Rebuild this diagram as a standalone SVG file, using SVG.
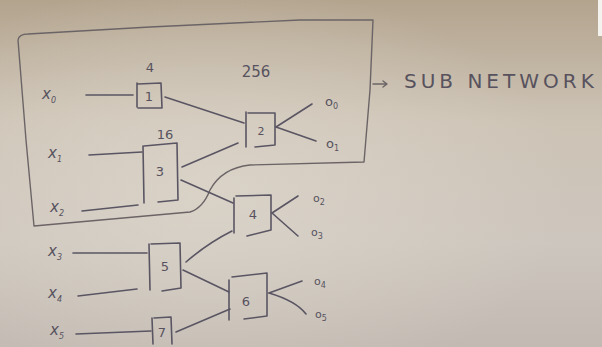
<svg xmlns="http://www.w3.org/2000/svg" width="602" height="347" viewBox="0 0 602 347">
<defs>
<linearGradient id="bg" x1="0" y1="0" x2="0" y2="1">
<stop offset="0" stop-color="#b3a48e"/>
<stop offset="0.35" stop-color="#cdc3b5"/>
<stop offset="0.7" stop-color="#cdc6be"/>
<stop offset="1" stop-color="#c2bab2"/>
</linearGradient>
<radialGradient id="glow" cx="0.35" cy="0.55" r="0.6">
<stop offset="0" stop-color="#ddd6cb" stop-opacity="0.8"/>
<stop offset="1" stop-color="#ddd6cb" stop-opacity="0"/>
</radialGradient>
<style>
.ink{fill:none;stroke:#5a5563;stroke-width:1.6;stroke-linecap:round;stroke-linejoin:round}
.frame{fill:none;stroke:#6b6466;stroke-width:1.4;stroke-linecap:round;stroke-linejoin:round}
.t{font-family:"DejaVu Sans","Liberation Sans",sans-serif;fill:#57525e}
.lab{font-size:13px;text-anchor:middle}
.var{font-size:15px;font-style:italic}
.sub{font-size:8px}
.big{font-size:20px;letter-spacing:4px}
</style>
</defs>
<rect width="602" height="347" fill="url(#bg)"/>
<rect width="602" height="347" fill="url(#glow)"/>
<rect x="598" y="0" width="4" height="36" fill="#f4f2ee"/>

<g id="subnetwork">
<path class="frame" d="M18,40 Q19,34 28,34 L150,27 L300,20 L373,20 L370,90 L364,162 L250,165 Q222,168 210,190 Q203,208 190,212 L34,226 L26,140 L18,40"/>
<path class="frame" d="M373,84 L386,84 M383,81 L387,84 L383,87"/>
<text class="t big" x="404" y="88">SUB NETWORK</text>
</g>

<g id="connectors">
<path class="ink" d="M86,95 L133,95"/>
<path class="ink" d="M89,155 L142,152"/>
<path class="ink" d="M82,211 L138,205"/>
<path class="ink" d="M165,97 L244,123"/>
<path class="ink" d="M182,167 L238,143"/>
<path class="ink" d="M181,180 L233,203"/>
<path class="ink" d="M276,127 L312,104"/>
<path class="ink" d="M276,127 L316,141"/>
<path class="ink" d="M272,213 L298,196"/>
<path class="ink" d="M272,213 L298,236"/>
<path class="ink" d="M73,253 L147,253"/>
<path class="ink" d="M78,296 L137,289"/>
<path class="ink" d="M76,334 L151,331"/>
<path class="ink" d="M186,262 Q208,243 232,231"/>
<path class="ink" d="M183,270 L229,292"/>
<path class="ink" d="M176,332 L230,309"/>
<path class="ink" d="M269,293 L302,281"/>
<path class="ink" d="M269,293 Q296,301 306,314"/>
</g>

<g id="x0"><text class="t var" x="42" y="99">x<tspan class="sub" dy="4">0</tspan></text></g>
<g id="x1"><text class="t var" x="48" y="158">x<tspan class="sub" dy="4">1</tspan></text></g>
<g id="x2"><text class="t var" x="50" y="212">x<tspan class="sub" dy="4">2</tspan></text></g>
<g id="x3"><text class="t var" x="48" y="256">x<tspan class="sub" dy="4">3</tspan></text></g>
<g id="x4"><text class="t var" x="48" y="298">x<tspan class="sub" dy="4">4</tspan></text></g>
<g id="x5"><text class="t var" x="50" y="335">x<tspan class="sub" dy="4">5</tspan></text></g>

<g id="node1">
<path class="ink" d="M137,83 L137,107 M138,84 L161,83 L162,108 L138,108"/>
<text class="t lab" x="149" y="101">1</text>
<text class="t lab" x="150" y="72">4</text>
</g>
<g id="node2">
<path class="ink" d="M246,112 L246,147 M248,113 L275,113 L275,145 L255,147"/>
<text class="t lab" x="261" y="135" style="font-size:11px">2</text>
<text class="t lab" x="256" y="77" style="font-size:15px">256</text>
</g>
<g id="node3">
<path class="ink" d="M143,146 L144,203 M144,146 L177,143 L178,200 L158,202"/>
<text class="t lab" x="160" y="176">3</text>
<text class="t lab" x="165" y="139">16</text>
</g>
<g id="node4">
<path class="ink" d="M234,198 L234,233 M236,196 L271,195 L271,230 L247,236"/>
<text class="t lab" x="253" y="219">4</text>
</g>
<g id="node5">
<path class="ink" d="M149,244 L150,290 M151,244 L180,243 L181,288 L162,291"/>
<text class="t lab" x="165" y="271">5</text>
</g>
<g id="node6">
<path class="ink" d="M229,280 L229,320 M232,277 L267,273 L267,316 L244,319"/>
<text class="t lab" x="246" y="306">6</text>
</g>
<g id="node7">
<path class="ink" d="M152,318 L153,344 M154,318 L171,317 L172,344"/>
<text class="t lab" x="162" y="337">7</text>
</g>

<g id="o0"><text class="t" x="325" y="106" style="font-size:13px">o<tspan class="sub" dy="3">0</tspan></text></g>
<g id="o1"><text class="t" x="326" y="148" style="font-size:13px">o<tspan class="sub" dy="3">1</tspan></text></g>
<g id="o2"><text class="t" x="313" y="202" style="font-size:11px">o<tspan class="sub" dy="3">2</tspan></text></g>
<g id="o3"><text class="t" x="311" y="236" style="font-size:11px">o<tspan class="sub" dy="3">3</tspan></text></g>
<g id="o4"><text class="t" x="314" y="285" style="font-size:11px">o<tspan class="sub" dy="3">4</tspan></text></g>
<g id="o5"><text class="t" x="315" y="318" style="font-size:11px">o<tspan class="sub" dy="3">5</tspan></text></g>
</svg>
